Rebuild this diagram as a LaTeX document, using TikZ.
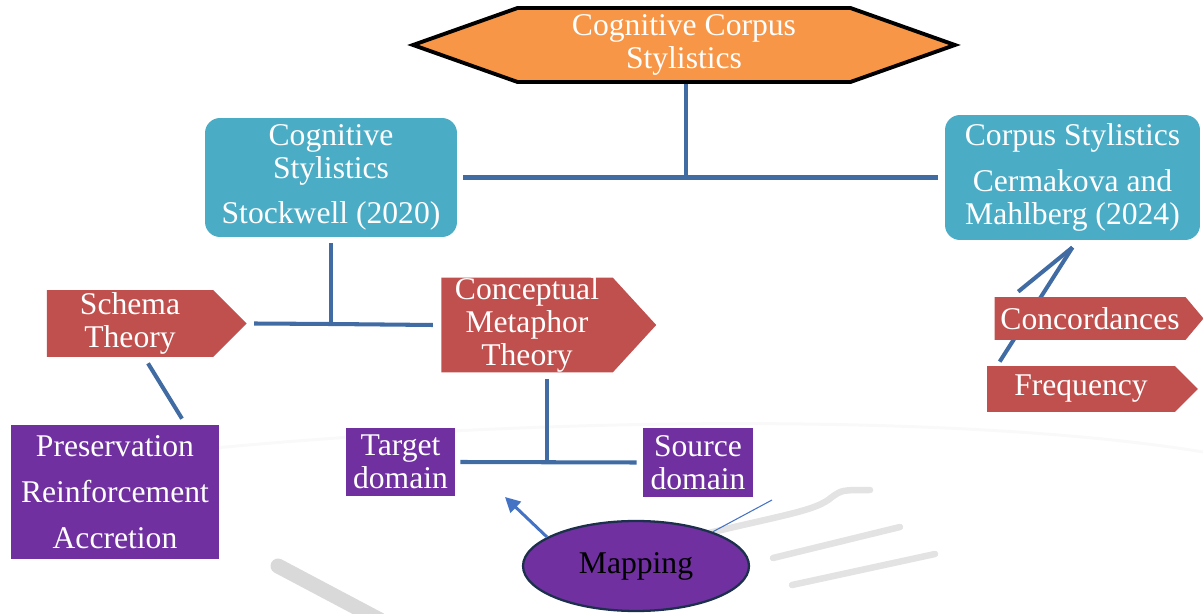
\documentclass[tikz,border=0pt]{standalone}
\usepackage{fontspec}
\setmainfont{Liberation Serif}
\usepackage{tikz}
\usetikzlibrary{shapes.geometric,shapes.symbols,positioning,calc,arrows.meta}
\definecolor{hexorange}{RGB}{247,150,70}
\definecolor{tealbox}{RGB}{75,172,198}
\definecolor{redbox}{RGB}{192,80,77}
\definecolor{purplebox}{RGB}{112,48,160}
\definecolor{linkblue}{RGB}{65,108,163}
\definecolor{mapblue}{RGB}{68,114,196}
\definecolor{mapedge}{RGB}{28,48,78}
\pgfdeclarelayer{background}
\pgfsetlayers{background,main}

\begin{document}
\begin{tikzpicture}[
            x=0.02cm, y=-0.02cm,
            every node/.style={font=\fontsize{18}{18.8}\selectfont, text=white, align=center, inner sep=0pt},
            field/.style={fill=tealbox, rounded corners=0.3cm},
            theory/.style={signal, signal to=east, fill=redbox},
            term/.style={fill=purplebox},
            link/.style={draw=linkblue, line width=2.3pt},
            swoosh/.style={draw=gray!22, line width=0.13cm, line cap=round},
        ]
            \useasboundingbox (0,0) rectangle (1203,614);

            \node[signal, signal to=east and west, signal pointer angle=39, fill=hexorange, draw=black, line width=2.2pt, minimum width=10.84cm, minimum height=1.48cm] (corpusstyl) at (684,45) {Cognitive Corpus\\Stylistics};

            \node[field, minimum width=5.04cm, minimum height=2.38cm] (cogsty) at (331,177.5) {Cognitive\\Stylistics\\[7pt]Stockwell (2020)};
            \node[field, minimum width=5.1cm, minimum height=2.5cm] (corpus) at (1072.5,177.5) {Corpus Stylistics\\[7pt]Cermakova and\\Mahlberg (2024)};

            % signal centres sit on the flat part, the tip sticks out east
            \node[theory, signal pointer angle=90, minimum width=4cm, minimum height=1.34cm] (schema) at (130,323.5) {Schema\\Theory};
            \node[theory, signal pointer angle=95, minimum width=4.3cm, minimum height=1.88cm] (cmt) at (527,325) {Conceptual\\Metaphor\\Theory};
            \node[theory, signal pointer angle=100, minimum width=4.18cm, minimum height=0.86cm] (concord) at (1090,318.5) {Concordances};
            \node[theory, signal pointer angle=90, minimum width=4.22cm, minimum height=0.92cm] (freq) at (1081,389) {Frequency};

            \node[term, minimum width=4.16cm, minimum height=2.68cm] (preserv) at (115,492) {Preservation\\[7.5pt]Reinforcement\\[7.5pt]Accretion};
            \node[term, minimum width=2.18cm, minimum height=1.36cm] (target) at (400.5,462) {Target\\domain};
            \node[term, minimum width=2.2cm, minimum height=1.38cm] (source) at (698,462.5) {Source\\domain};

            \node[ellipse, fill=purplebox, draw=mapedge, line width=1.3pt, text=black, minimum width=4.52cm, minimum height=1.8cm] (mapping) at (636,566) {Mapping};

            \coordinate (topjoin) at (686,177.5);
            \coordinate (cogjoin) at (331,324);
            \coordinate (cmtjoin) at (547,462);
            \coordinate (mapto) at (505,497);
            \coordinate (mapfrom) at (772,500);

            \begin{pgfonlayer}{background}
                % faint strokes behind the chart
                \draw[draw=gray!5, line width=0.06cm] (215,448) .. controls (600,412) and (1000,418) .. (1203,452);
                \draw[swoosh, draw=gray!30, line width=0.3cm] (278,566) -- (380,620);
                \draw[swoosh] (680,540) .. controls (780,515) and (815,512) .. (832,497) .. controls (842,490) .. (870,490);
                \draw[swoosh] (773,558) -- (900,527);
                \draw[swoosh] (792,585) -- (935,554);

                % tree links
                \draw[link] (topjoin |- corpusstyl.south) -- (topjoin);
                \draw[link] ([xshift=0.12cm]cogsty.east) -- ([xshift=-0.14cm]corpus.west);
                \draw[link] ([yshift=-0.12cm]cogsty.south) -- (cogjoin);
                \draw[link] ([xshift=0.14cm]schema.east) -- (cogjoin) -- ([xshift=-0.16cm]cmt.west);
                \draw[link] ([yshift=-0.12cm]cmtjoin |- cmt.south) -- (cmtjoin);
                \draw[link] ([xshift=0.1cm]target.east) -- ([xshift=-0.12cm]source.west);
                \draw[link] ([shift={(18,6)}]schema.south) -- ([shift={(67,-6)}]preserv.north);
                \draw[link] ([yshift=-0.14cm]corpus.south) -- ([shift={(24,-5)}]concord.north west);
                \draw[link] ([yshift=-0.14cm]corpus.south) -- ([shift={(13,-4)}]freq.north west);
            \end{pgfonlayer}

            \draw[draw=mapblue, line width=1.7pt, -{Triangle[length=0.3cm, width=0.3cm]}] (mapping.162) -- (mapto);
            \draw[draw=mapblue, line width=0.6pt] (mapping.24) -- (mapfrom);
        \end{tikzpicture}
\end{document}
